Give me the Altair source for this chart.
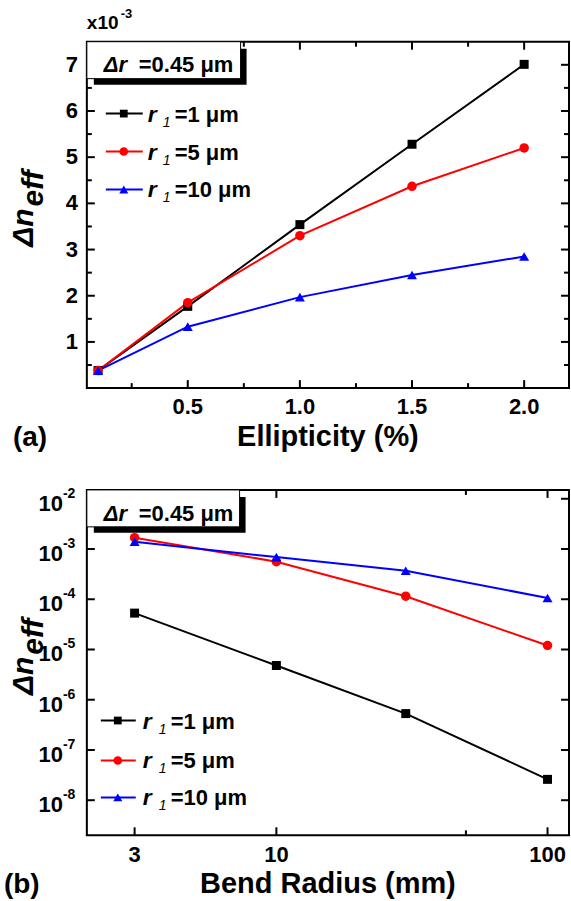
import altair as alt
import pandas as pd

# ---------------- data ----------------
SERIES = ["r1=1", "r1=5", "r1=10"]
SERIES_COLORS = ["#000000", "#ff0000", "#0000ff"]
SERIES_SHAPES = ["square", "circle", "triangle-up"]
SERIES_SIZES = [81, 100, 110]
LEGEND_SUFFIX = ["=1 μm", "=5 μm", "=10 μm"]
DELTA_R_LABEL = "=0.45 μm"

ELLIPTICITY = [0.1, 0.5, 1.0, 1.5, 2.0]
A_R1 = [0.38, 1.77, 3.54, 5.28, 7.01]
A_R5 = [0.38, 1.85, 3.30, 4.37, 5.20]
A_R10 = [0.38, 1.33, 1.97, 2.45, 2.85]

BEND_RADIUS = [3, 10, 30, 100]
B_R1 = [5.3e-5, 4.8e-6, 5.3e-7, 2.6e-8]
B_R5 = [1.68e-3, 5.6e-4, 1.15e-4, 1.2e-5]
B_R10 = [1.4e-3, 6.9e-4, 3.7e-4, 1.06e-4]

A_X_MAJOR = [0.5, 1.0, 1.5, 2.0]
A_X_LABELS = ["0.5", "1.0", "1.5", "2.0"]
A_X_MINOR = [0.25, 0.75, 1.25, 1.75]
A_Y_MAJOR = [1, 2, 3, 4, 5, 6, 7]
A_Y_LABELS = ["1", "2", "3", "4", "5", "6", "7"]
A_Y_MINOR = [0.5, 1.5, 2.5, 3.5, 4.5, 5.5, 6.5]
B_X_MAJOR = [3, 10, 100]
B_X_LABELS = ["3", "10", "100"]
B_X_MINOR = [50]
B_Y_MAJOR = [1e-2, 1e-3, 1e-4, 1e-5, 1e-6, 1e-7, 1e-8]
B_Y_EXPONENT = ["-2", "-3", "-4", "-5", "-6", "-7", "-8"]

A_X_DOMAIN = [0.05, 2.2]
A_Y_DOMAIN = [0, 7.5]
B_X_DOMAIN = [2, 120]
B_Y_DOMAIN = [2e-9, 1.5e-2]

FONT = "Liberation Sans"
TICK_FS = 22
W = 483
HA = 347
HB = 346


def long_df(x, ys):
    rows = []
    for name, vals in zip(SERIES, ys):
        for xv, yv in zip(x, vals):
            rows.append({"x": xv, "y": yv, "series": name})
    return pd.DataFrame(rows)


def txt(text, x, y, size, weight="bold", style="normal", align="left",
        baseline="alphabetic", angle=0, font=FONT):
    kw = dict(align=align, baseline=baseline, fontSize=size, fontWeight=weight,
              fontStyle=style, font=font, color="black")
    if angle:
        kw["angle"] = angle
    return alt.Chart(pd.DataFrame({"t": [text]})).mark_text(**kw).encode(
        x=alt.value(x), y=alt.value(y), text="t:N")


def x_ticks(values, xs, H, length):
    b = alt.Chart(pd.DataFrame({"v": values})).mark_rule(color="black", strokeWidth=2)
    return [
        b.encode(x=alt.X("v:Q", scale=xs, axis=None), y=alt.value(H), y2=alt.value(H - length)),
        b.encode(x=alt.X("v:Q", scale=xs, axis=None), y=alt.value(0), y2=alt.value(length)),
    ]


def y_ticks(values, ys, length):
    b = alt.Chart(pd.DataFrame({"v": values})).mark_rule(color="black", strokeWidth=2)
    return [
        b.encode(y=alt.Y("v:Q", scale=ys, axis=None), x=alt.value(0), x2=alt.value(length)),
        b.encode(y=alt.Y("v:Q", scale=ys, axis=None), x=alt.value(W), x2=alt.value(W - length)),
    ]


def x_labels(values, labels, xs, y):
    df = pd.DataFrame({"v": values, "t": labels})
    return alt.Chart(df).mark_text(align="center", baseline="top", fontSize=TICK_FS, fontWeight="bold",
                                   font=FONT, color="black").encode(
        x=alt.X("v:Q", scale=xs, axis=None), y=alt.value(y), text="t:N")


def y_labels(values, labels, ys, x):
    df = pd.DataFrame({"v": values, "t": labels})
    return alt.Chart(df).mark_text(align="right", baseline="middle", fontSize=TICK_FS, fontWeight="bold",
                                   font=FONT, color="black").encode(
        y=alt.Y("v:Q", scale=ys, axis=None), x=alt.value(x), text="t:N")


def series_layers(df, xs, ys):
    color = alt.Color("series:N", scale=alt.Scale(domain=SERIES, range=SERIES_COLORS), legend=None)
    shape = alt.Shape("series:N", scale=alt.Scale(domain=SERIES, range=SERIES_SHAPES), legend=None)
    size = alt.Size("series:N", scale=alt.Scale(domain=SERIES, range=SERIES_SIZES), legend=None)
    base = alt.Chart(df)
    line = base.mark_line(strokeWidth=2).encode(
        x=alt.X("x:Q", scale=xs, axis=None),
        y=alt.Y("y:Q", scale=ys, axis=None),
        color=color)
    pts = base.mark_point(filled=True, opacity=1, strokeWidth=0).encode(
        x=alt.X("x:Q", scale=xs, axis=None),
        y=alt.Y("y:Q", scale=ys, axis=None),
        color=color, shape=shape, size=size)
    return [line, pts]


def dr_box(bw, bh, base_y):
    one = pd.DataFrame({"a": [0]})
    shadow = alt.Chart(one).mark_rect(color="black").encode(
        x=alt.value(7), x2=alt.value(bw + 6), y=alt.value(7), y2=alt.value(bh + 6))
    box = alt.Chart(one).mark_rect(fill="white", stroke="black", strokeWidth=1).encode(
        x=alt.value(0), x2=alt.value(bw), y=alt.value(0), y2=alt.value(bh))
    return [shadow, box,
            txt("Δr", 17, base_y, 22, style="italic"),
            txt(DELTA_R_LABEL, 52, base_y, 22)]


def legend(rows_y, xl0, xl1, xm, xr, xsub, xeq):
    out = []
    for i, name in enumerate(SERIES):
        ry = rows_y[i]
        one = pd.DataFrame({"a": [0]})
        out.append(alt.Chart(one).mark_rule(color=SERIES_COLORS[i], strokeWidth=2).encode(
            x=alt.value(xl0), x2=alt.value(xl1), y=alt.value(ry)))
        out.append(alt.Chart(one).mark_point(filled=True, shape=SERIES_SHAPES[i], color=SERIES_COLORS[i],
                                             size=SERIES_SIZES[i] * 0.75, opacity=1, strokeWidth=0).encode(
            x=alt.value(xm), y=alt.value(ry)))
        out.append(txt("r", xr, ry + 1, 23, style="italic", baseline="middle"))
        out.append(txt("1", xsub, ry + 13, 14, weight="normal", style="italic"))
        out.append(txt(LEGEND_SUFFIX[i], xeq, ry + 1, 22, baseline="middle"))
    return out


def extent_rule(left, top):
    return alt.Chart(pd.DataFrame({"a": [0]})).mark_rule(strokeOpacity=0, strokeWidth=0).encode(
        x=alt.value(-left), y=alt.value(-top), y2=alt.value(0))


# ---------------- panel (a) ----------------
xs_a = alt.Scale(domain=A_X_DOMAIN, nice=False, zero=False)
ys_a = alt.Scale(domain=A_Y_DOMAIN, nice=False, zero=False)

df_a = long_df(ELLIPTICITY, [A_R1, A_R5, A_R10])
layers_a = [extent_rule(86, 40)]
layers_a += x_ticks(A_X_MAJOR, xs_a, HA, 8) + x_ticks(A_X_MINOR, xs_a, HA, 5)
layers_a += y_ticks(A_Y_MAJOR, ys_a, 8) + y_ticks(A_Y_MINOR, ys_a, 5)
layers_a += [x_labels(A_X_MAJOR, A_X_LABELS, xs_a, HA + 9),
             y_labels(A_Y_MAJOR, A_Y_LABELS, ys_a, -9)]
layers_a += series_layers(df_a, xs_a, ys_a)
layers_a += dr_box(154, 37, 30)
layers_a += legend([72, 110, 148], 19, 56, 37, 61, 76, 88)
layers_a += [
    txt("x10", 0, -13, 19),
    txt("-3", 34, -24, 13),
    txt("Δn", -54, 167, 30, style="italic", align="right", angle=270),
    txt("eff", -44, 165, 30, style="italic", align="left", angle=270),
    txt("(a)", -74, 405, 28),
    txt("Ellipticity (%)", W / 2, 405, 29, align="center"),
]
panel_a = alt.layer(*layers_a).properties(width=W, height=HA)

# ---------------- panel (b) ----------------
xs_b = alt.Scale(type="log", domain=B_X_DOMAIN, nice=False)
ys_b = alt.Scale(type="log", domain=B_Y_DOMAIN, nice=False)

df_b = long_df(BEND_RADIUS, [B_R1, B_R5, B_R10])
ylab_df = pd.DataFrame({"v": B_Y_MAJOR, "base": ["10"] * len(B_Y_MAJOR), "exp": B_Y_EXPONENT})
ylab_base = alt.Chart(ylab_df).mark_text(align="right", baseline="alphabetic", dy=12, fontSize=TICK_FS,
                                          fontWeight="bold", font=FONT, color="black").encode(
    y=alt.Y("v:Q", scale=ys_b, axis=None), x=alt.value(-24), text="base:N")
ylab_exp = alt.Chart(ylab_df).mark_text(align="left", baseline="alphabetic", dy=-1, fontSize=14,
                                         fontWeight="bold", font=FONT, color="black").encode(
    y=alt.Y("v:Q", scale=ys_b, axis=None), x=alt.value(-24), text="exp:N")

layers_b = [extent_rule(86, 0)]
layers_b += x_ticks(B_X_MAJOR, xs_b, HB, 8) + x_ticks(B_X_MINOR, xs_b, HB, 5)
layers_b += y_ticks(B_Y_MAJOR, ys_b, 8)
layers_b += [x_labels(B_X_MAJOR, B_X_LABELS, xs_b, HB + 10), ylab_base, ylab_exp]
layers_b += series_layers(df_b, xs_b, ys_b)
layers_b += dr_box(153, 37, 31)
layers_b += legend([231, 271, 308], 14, 49, 31, 56, 72, 84)
layers_b += [
    txt("Δn", -54, 167, 30, style="italic", align="right", angle=270),
    txt("eff", -44, 165, 30, style="italic", align="left", angle=270),
    txt("(b)", -83, 404, 28),
    txt("Bend Radius (mm)", W / 2, 404, 29, align="center"),
]
panel_b = alt.layer(*layers_b).properties(width=W, height=HB)

chart = alt.vconcat(panel_a, panel_b, spacing=102, bounds="flush").properties(
    padding=0, background="white"
).configure_view(stroke="black", strokeWidth=2)

chart.save("out.html", embed_options={"renderer": "svg", "actions": False})
